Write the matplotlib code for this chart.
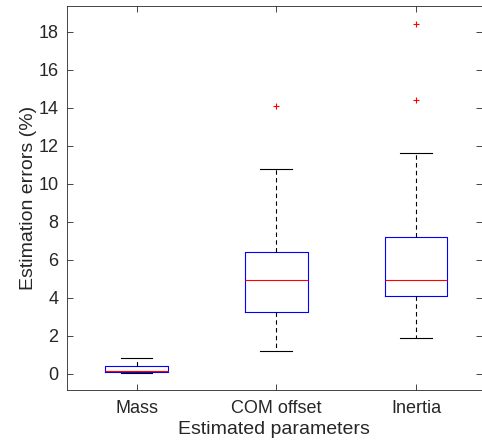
import matplotlib
matplotlib.use("Agg")
import matplotlib.pyplot as plt

plt.rcParams['font.family'] = ['Liberation Sans', 'DejaVu Sans']

categories = ["Mass", "COM offset", "Inertia"]
whisker_low = [0.02, 1.19, 1.87]
q1 = [0.07, 3.25, 4.09]
medians = [0.17, 4.92, 4.91]
q3 = [0.42, 6.42, 7.21]
whisker_high = [0.83, 10.75, 11.6]
outliers = [[], [14.09], [14.4, 18.4]]
yticks = [0, 2, 4, 6, 8, 10, 12, 14, 16, 18]

stats = []
for i, c in enumerate(categories):
    stats.append(dict(label=c, whislo=whisker_low[i], q1=q1[i], med=medians[i],
                      q3=q3[i], whishi=whisker_high[i], fliers=outliers[i]))

fig = plt.figure(figsize=(4.82, 4.44), dpi=100)
ax = fig.add_axes([0.1384, 0.121, 0.861, 0.8655])
axc = (0.15, 0.15, 0.15)
ax.bxp(stats, positions=[1, 2, 3], widths=0.45,
       boxprops=dict(color='blue', linewidth=0.8),
       medianprops=dict(color='red', linewidth=0.8),
       whiskerprops=dict(color='black', linestyle=(0, (4, 3)), linewidth=0.8),
       capprops=dict(color='black', linewidth=0.8),
       capwidths=0.227,
       flierprops=dict(marker='+', markeredgecolor='red', markersize=4, linestyle='none', markeredgewidth=0.8))

ax.set_xlim(0.5, 3.47)
ax.set_ylim(-0.87, 19.35)
ax.set_yticks(yticks)
ax.set_xticks([1, 2, 3])
ax.set_xticklabels(categories)
ax.tick_params(direction='in', top=True, right=True, length=4, width=0.6,
               colors=axc, labelsize=13, labelcolor=axc)
ax.tick_params(axis='x', pad=7)
ax.tick_params(axis='y', pad=6)
for s in ax.spines.values():
    s.set_color(axc)
    s.set_linewidth(0.6)
ax.set_ylabel("Estimation errors (%)", fontsize=14, color=axc, labelpad=1)
ax.set_xlabel("Estimated parameters", fontsize=14, color=axc, labelpad=3)

fig.savefig("out.png", dpi=100)
